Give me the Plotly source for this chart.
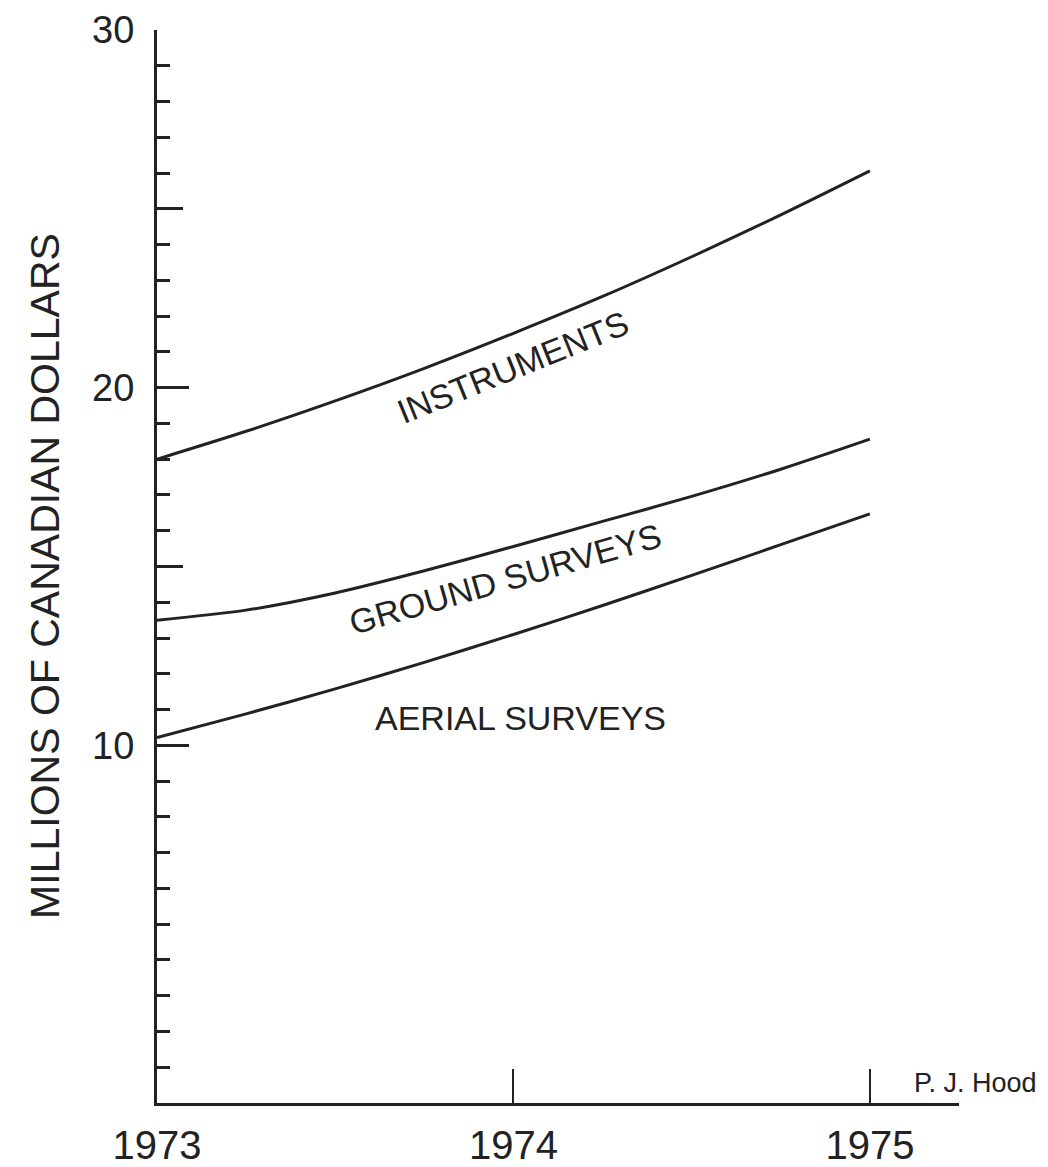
import plotly.graph_objects as go

years = [1973.0, 1973.25, 1973.5, 1973.75, 1974.0, 1974.25, 1974.5, 1974.75, 1975.0]
instruments = [18.0, 18.78, 19.63, 20.54, 21.52, 22.55, 23.66, 24.83, 26.06]
ground_surveys = [13.5, 13.78, 14.26, 14.88, 15.56, 16.26, 16.96, 17.72, 18.56]
aerial_surveys = [10.22, 10.88, 11.58, 12.32, 13.10, 13.91, 14.75, 15.61, 16.47]

x_tickvals = [1973, 1974, 1975]
x_ticktext = ["1973", "1974", "1975"]
y_tickvals = [10, 20, 30]
y_ticktext = ["10", "20", "30"]
y_half_ticks = [15, 25]

INK = "#222222"
FONT = "Liberation Sans, Arial, sans-serif"

fig = go.Figure()
for vals in (instruments, ground_surveys, aerial_surveys):
    fig.add_trace(go.Scatter(x=years, y=vals, mode="lines",
                             line=dict(color=INK, width=3, shape="spline", smoothing=0.8),
                             showlegend=False, hoverinfo="skip"))

# invisible trace to activate the overlay axis carrying the half-decade ticks
fig.add_trace(go.Scatter(x=[years[0]], y=[y_half_ticks[0]], yaxis="y2", mode="markers",
                         marker=dict(opacity=0), showlegend=False, hoverinfo="skip"))

fig.update_layout(
    width=1048, height=1167,
    margin=dict(l=157, r=89, t=30, b=64),
    paper_bgcolor="white", plot_bgcolor="white",
    font=dict(family=FONT, color=INK),
    xaxis=dict(range=[1973, 1975.25], tickmode="array", tickvals=x_tickvals, ticktext=x_ticktext,
               ticks="inside", ticklen=34, tickwidth=2, tickcolor=INK, automargin=False,
               showline=True, linewidth=3, linecolor=INK, showgrid=False, zeroline=False,
               tickfont=dict(size=40, color=INK, family=FONT), ticklabelstandoff=5),
    yaxis=dict(range=[0, 30], tickmode="array", tickvals=y_tickvals, ticktext=y_ticktext,
               ticks="inside", ticklen=32, tickwidth=3, tickcolor=INK, automargin=False,
               minor=dict(tickmode="linear", tick0=0, dtick=1, ticks="inside", ticklen=13,
                          tickwidth=2.5, tickcolor=INK, showgrid=False),
               showline=True, linewidth=3, linecolor=INK, showgrid=False, zeroline=False,
               tickfont=dict(size=38, color=INK, family=FONT), ticklabelstandoff=12),
    yaxis2=dict(range=[0, 30], overlaying="y", anchor="x", side="left", automargin=False,
                tickmode="array", tickvals=y_half_ticks, ticks="inside", ticklen=26,
                tickwidth=2.5, tickcolor=INK, showticklabels=False, showline=False,
                showgrid=False, zeroline=False),
)

fig.add_annotation(text="MILLIONS OF CANADIAN DOLLARS", xref="paper", yref="paper",
                   x=-0.14, y=0.491, xanchor="center", yanchor="middle", textangle=-90,
                   showarrow=False, font=dict(size=41, color=INK, family=FONT))
fig.add_annotation(text="INSTRUMENTS", x=1974.0, y=20.58, textangle=-22, showarrow=False,
                   xanchor="center", yanchor="middle",
                   font=dict(size=34, color=INK, family=FONT))
fig.add_annotation(text="GROUND SURVEYS", x=1973.976, y=14.65, textangle=-16, showarrow=False,
                   xanchor="center", yanchor="middle",
                   font=dict(size=34, color=INK, family=FONT))
fig.add_annotation(text="AERIAL SURVEYS", x=1974.021, y=10.76, showarrow=False,
                   xanchor="center", yanchor="middle",
                   font=dict(size=34, color=INK, family=FONT))
fig.add_annotation(text="P. J. Hood", xref="paper", yref="paper", x=1.021, y=0.0186,
                   xanchor="center", yanchor="middle", showarrow=False,
                   font=dict(size=27, color=INK, family=FONT))

fig.write_html("out.html", config={"displayModeBar": False},
               post_script="document.body.style.margin='0';document.body.style.overflow='hidden';")
